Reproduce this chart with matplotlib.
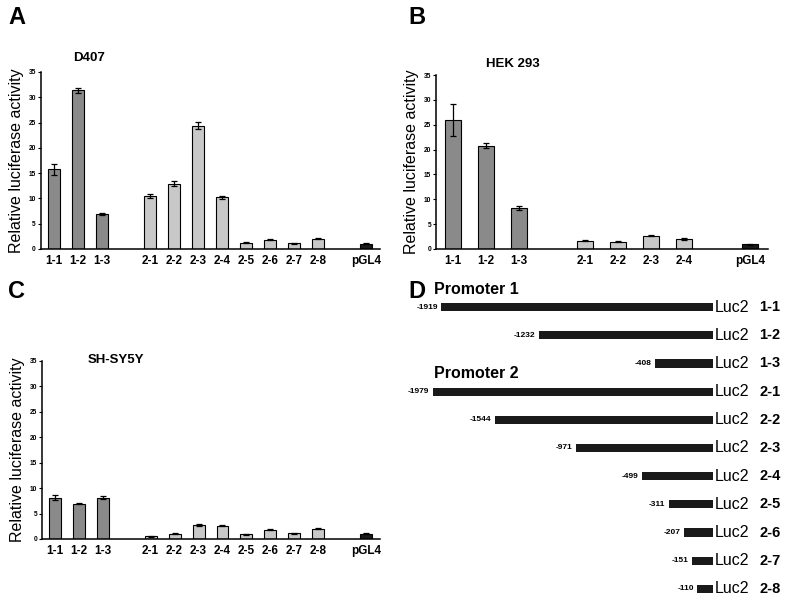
import numpy as np
import matplotlib
matplotlib.use("Agg")
import matplotlib.pyplot as plt

plt.rcParams["font.family"] = ["Liberation Sans", "DejaVu Sans"]

# panel A / C categories (promoter 1, promoter 2, control)
labels_full = ["1-1", "1-2", "1-3", "2-1", "2-2", "2-3", "2-4",
               "2-5", "2-6", "2-7", "2-8", "pGL4"]
labels_hek = ["1-1", "1-2", "1-3", "2-1", "2-2", "2-3", "2-4", "pGL4"]

d407_vals = [15.8, 31.4, 6.9, 10.4, 12.9, 24.4, 10.2, 1.2, 1.8, 1.1, 2.0, 1.0]
d407_err = [1.1, 0.5, 0.2, 0.4, 0.5, 0.7, 0.3, 0.1, 0.1, 0.1, 0.1, 0.1]

hek_vals = [25.9, 20.8, 8.2, 1.7, 1.5, 2.7, 2.0, 1.0]
hek_err = [3.2, 0.5, 0.4, 0.1, 0.1, 0.1, 0.2, 0.1]

sh_vals = [8.1, 6.9, 8.1, 0.5, 1.0, 2.7, 2.6, 0.9, 1.8, 1.1, 2.0, 1.0]
sh_err = [0.5, 0.1, 0.3, 0.05, 0.1, 0.2, 0.1, 0.05, 0.1, 0.1, 0.1, 0.1]

# panel D constructs
construct_names = ["1-1", "1-2", "1-3", "2-1", "2-2", "2-3", "2-4",
                   "2-5", "2-6", "2-7", "2-8"]
construct_starts = [-1919, -1232, -408, -1979, -1544, -971, -499,
                    -311, -207, -151, -110]

DARK = "#8a8a8a"
LIGHT = "#c8c8c8"
BLACK = "#1a1a1a"


def positions(labels):
    pos, x = [], 0
    prev = None
    for lab in labels:
        grp = lab[0]
        if prev is not None and grp != prev:
            x += 1
        pos.append(x)
        x += 1
        prev = grp
    return pos


def colour(lab):
    if lab.startswith("1"):
        return DARK
    if lab.startswith("2"):
        return LIGHT
    return BLACK


def bar_panel(rect, labels, vals, errs, title, title_xy, xlim):
    ax = fig.add_axes(rect)
    pos = positions(labels)
    ax.bar(pos, vals, width=0.5, color=[colour(l) for l in labels],
           edgecolor="black", linewidth=0.8, zorder=2)
    ax.errorbar(pos, vals, yerr=errs, fmt="none", ecolor="black",
                elinewidth=0.9, capsize=2.5, capthick=0.9, zorder=3)
    ax.set_ylim(0, 35)
    ax.set_xlim(*xlim)
    ax.set_yticks(range(0, 36, 5))
    ax.set_xticks(pos)
    ax.set_xticklabels(labels, fontsize=8.5, fontweight="bold")
    ax.tick_params(axis="x", length=0, pad=4)
    ax.tick_params(axis="y", length=2.5, width=0.8, labelsize=4.8, pad=1)
    for t in ax.get_yticklabels():
        t.set_fontweight("bold")
    for s in ["top", "right"]:
        ax.spines[s].set_visible(False)
    for s in ["left", "bottom"]:
        ax.spines[s].set_linewidth(1.1)
    ax.set_ylabel("Relative luciferase activity", fontsize=11.5, labelpad=3)
    fig.text(title_xy[0], title_xy[1], title, fontsize=9.5, fontweight="bold",
             ha="left", va="center")
    return ax


fig = plt.figure(figsize=(8, 6.01), dpi=100)

bar_panel([0.051, 0.5857, 0.424, 0.2945], labels_full, d407_vals, d407_err,
          "D407", (0.091, 1 - 58 / 601), (-0.54, 13.58))
bar_panel([0.545, 0.5857, 0.415, 0.2895], labels_hek, hek_vals, hek_err,
          "HEK 293", (0.607, 1 - 64 / 601), (-0.52, 9.55))
bar_panel([0.0525, 0.1032, 0.4225, 0.2962], labels_full, sh_vals, sh_err,
          "SH-SY5Y", (0.110, 1 - 360 / 601), (-0.54, 13.58))

# panel letters
for letter, (x, y) in {"A": (8, 17), "B": (408, 17),
                       "C": (8, 292), "D": (408, 292)}.items():
    fig.text(x / 800, 1 - y / 601, letter, fontsize=17, fontweight="bold",
             ha="left", va="center")

# panel D: construct map
axd = fig.add_axes([0.5, 0.0, 0.5, 321 / 601])
axd.set_xlim(-2212, 615)
axd.set_ylim(10.43, -0.96)
axd.axis("off")
rows = np.arange(len(construct_names))
axd.barh(rows, [-s for s in construct_starts], left=construct_starts,
         height=0.29, color=BLACK)
for r, s, name in zip(rows, construct_starts, construct_names):
    axd.text(s - 25, r, str(s), fontsize=6, fontweight="bold", ha="right",
             va="center")
    axd.text(14, r, "Luc2", fontsize=11.5, ha="left", va="center")
    axd.text(403, r, name, fontsize=10.5, fontweight="bold", ha="center",
             va="center")
axd.text(-1979 + 7, -0.62, "Promoter 1", fontsize=11.5, fontweight="bold",
         ha="left", va="center")
axd.text(-1979 + 7, 2.36, "Promoter 2", fontsize=11.5, fontweight="bold",
         ha="left", va="center")

fig.savefig("out.png", dpi=100)
